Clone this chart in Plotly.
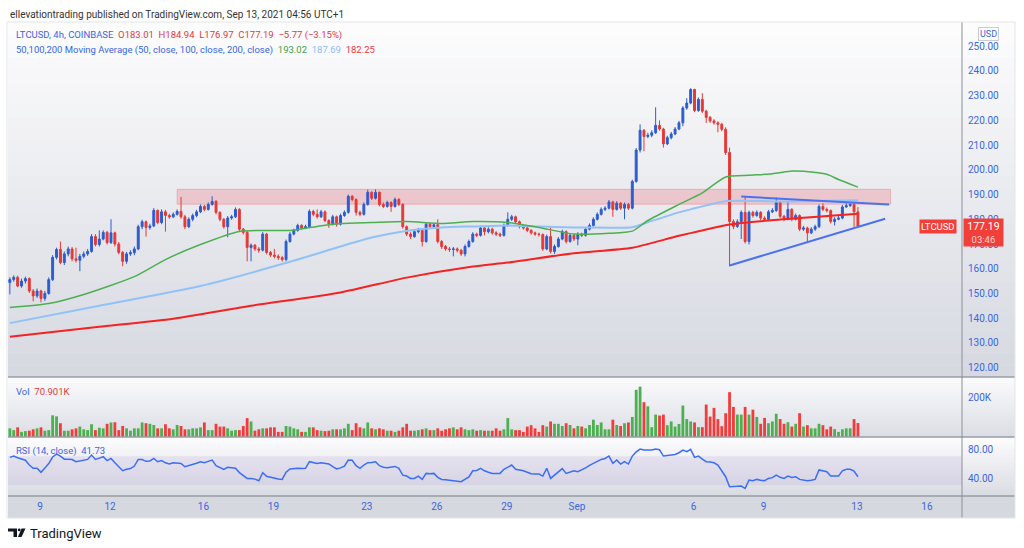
import plotly.graph_objects as go
import pandas as pd

# ---- data (LTCUSD 4h, Coinbase) ----
first_open = 154.4
closes = [
    155.6, 156.5, 153.0, 155.0, 156.0, 151.0, 149.0, 151.0, 148.0, 150.0,
    155.6, 164.6, 167.8, 162.5, 166.0, 168.0, 164.0, 163.4, 165.0, 166.0,
    167.0, 173.0, 169.8, 172.0, 174.7, 170.6, 174.5, 170.0, 166.6, 163.0,
    166.0, 166.5, 168.0, 177.0, 179.0, 176.7, 177.3, 183.6, 178.7, 183.0,
    181.5, 181.0, 182.0, 183.2, 181.0, 177.0, 180.0, 181.5, 183.0, 185.2,
    184.0, 186.0, 187.2, 182.8, 180.0, 177.0, 180.5, 181.0, 184.0, 176.0,
    174.7, 168.6, 169.5, 168.0, 167.5, 174.0, 166.6, 165.5, 165.0, 164.5,
    163.7, 171.0, 174.0, 175.5, 177.5, 176.5, 177.0, 183.2, 182.0, 181.0,
    183.0, 179.5, 178.0, 181.0, 178.0, 181.5, 182.8, 189.3, 188.0, 182.8,
    182.0, 186.0, 190.9, 188.5, 190.9, 186.0, 185.2, 186.8, 185.2, 188.0,
    186.0, 177.0, 174.0, 173.0, 175.0, 175.5, 171.0, 178.0, 177.0, 177.8,
    171.0, 169.0, 168.0, 167.8, 168.0, 167.5, 166.0, 169.0, 171.0, 174.0,
    173.5, 176.5, 175.0, 176.0, 174.5, 174.0, 173.5, 177.5, 180.0, 181.0,
    179.0, 177.0, 176.5, 175.5, 174.5, 174.0, 173.8, 168.0, 173.0, 167.0,
    169.0, 172.0, 175.0, 171.0, 173.5, 172.0, 174.0, 173.5, 176.0, 177.5,
    180.0, 182.0, 184.0, 184.5, 187.0, 184.0, 186.5, 184.5, 186.0, 184.5,
    195.3, 208.0, 216.0, 213.5, 214.0, 215.0, 218.0, 216.5, 210.5, 213.0,
    214.5, 216.5, 219.0, 225.0, 227.0, 232.5, 224.0, 228.5, 223.7, 221.2,
    219.8, 219.0, 218.4, 216.4, 207.0, 179.1, 177.1, 179.0, 182.8, 171.0,
    182.8, 181.5, 182.8, 180.5, 180.0, 183.0, 183.5, 186.8, 181.2, 180.0,
    184.0, 180.0, 181.5, 176.0, 176.5, 174.5, 176.0, 177.0, 185.2, 184.0,
    183.5, 179.1, 180.0, 180.5, 185.0, 185.5, 186.0, 183.01, 177.19,
]
highs = [
    156.5, 157.3, 157.2, 156.0, 156.8, 156.5, 151.8, 152.0, 151.5, 151.0,
    156.5, 165.5, 168.5, 171.0, 167.0, 169.0, 168.8, 168.5, 166.0, 167.0,
    168.0, 174.0, 174.0, 175.5, 175.5, 175.3, 180.0, 175.0, 170.8, 167.2,
    166.8, 167.5, 169.0, 177.8, 179.8, 179.5, 178.2, 184.5, 184.0, 184.0,
    183.8, 182.2, 182.8, 184.0, 189.0, 181.8, 180.8, 182.3, 183.8, 186.0,
    185.8, 186.8, 189.3, 187.8, 183.2, 180.5, 181.3, 181.8, 184.8, 184.5,
    176.5, 175.2, 170.2, 170.0, 168.8, 174.8, 174.5, 167.2, 168.0, 165.8,
    165.2, 171.8, 174.8, 176.2, 178.2, 178.0, 177.8, 184.0, 183.8, 184.0,
    183.8, 183.6, 180.0, 181.8, 181.5, 182.3, 183.6, 190.0, 189.8, 188.5,
    183.5, 186.8, 192.0, 191.3, 192.1, 191.2, 186.8, 187.5, 187.3, 188.8,
    188.6, 186.5, 177.5, 174.8, 175.8, 176.5, 176.0, 178.8, 178.6, 178.5,
    180.0, 171.6, 169.6, 168.8, 168.8, 168.6, 168.0, 169.8, 171.8, 174.8,
    174.6, 177.3, 177.0, 176.8, 176.6, 175.2, 174.6, 178.3, 182.8, 181.8,
    181.5, 179.5, 177.6, 177.0, 176.0, 175.0, 174.6, 174.3, 173.8, 177.0,
    169.8, 172.8, 175.8, 175.5, 174.3, 174.0, 174.8, 174.6, 176.8, 178.3,
    180.8, 182.8, 184.8, 185.3, 187.8, 187.5, 187.3, 187.0, 186.8, 186.6,
    196.0, 208.8, 218.4, 216.5, 215.0, 216.0, 225.3, 220.0, 217.0, 213.8,
    215.3, 217.3, 219.8, 225.8, 229.0, 233.0, 232.8, 229.3, 231.0, 224.3,
    221.8, 220.5, 219.6, 219.0, 217.2, 209.0, 180.0, 180.0, 183.6, 189.2,
    183.5, 183.4, 183.6, 183.3, 181.2, 183.8, 184.5, 188.8, 187.3, 181.8,
    187.2, 184.5, 182.3, 182.0, 177.3, 177.0, 176.8, 177.8, 186.0, 186.5,
    184.8, 184.0, 180.8, 181.3, 185.8, 186.5, 186.8, 187.0, 184.94,
]
lows = [
    149.6, 154.8, 152.5, 152.3, 154.0, 150.2, 146.8, 148.2, 146.4, 147.0,
    149.5, 155.0, 163.8, 161.8, 161.5, 165.0, 163.0, 162.5, 159.0, 164.2,
    165.2, 166.5, 169.0, 169.0, 171.5, 169.8, 170.0, 169.0, 165.8, 161.0,
    162.0, 165.2, 165.5, 167.5, 176.0, 173.0, 175.8, 176.8, 178.0, 178.0,
    175.0, 180.2, 180.5, 181.5, 180.2, 176.0, 176.5, 179.2, 180.8, 182.5,
    183.2, 183.5, 185.5, 182.0, 179.2, 176.2, 172.7, 179.8, 180.5, 175.2,
    173.8, 163.0, 163.0, 167.2, 166.5, 167.0, 165.8, 164.8, 164.2, 163.5,
    162.9, 163.0, 170.5, 173.5, 175.0, 175.8, 176.0, 176.5, 181.2, 180.3,
    180.5, 178.8, 176.5, 177.5, 177.0, 177.5, 181.0, 182.3, 187.3, 181.5,
    181.2, 181.5, 185.5, 187.8, 188.0, 185.2, 184.5, 184.7, 183.0, 184.7,
    185.3, 176.2, 173.2, 172.0, 172.5, 174.3, 169.0, 170.5, 176.3, 176.2,
    170.2, 168.0, 167.2, 166.8, 165.0, 166.6, 165.2, 165.0, 168.5, 170.5,
    172.8, 173.0, 173.5, 174.3, 173.8, 173.2, 172.8, 173.0, 177.0, 179.3,
    178.3, 176.3, 175.8, 174.8, 173.8, 173.3, 173.0, 167.2, 167.5, 166.2,
    166.0, 168.5, 171.5, 170.2, 170.5, 171.2, 169.5, 172.8, 173.0, 175.5,
    177.0, 179.5, 181.5, 183.3, 184.0, 181.0, 183.5, 183.8, 180.0, 183.8,
    184.0, 194.8, 207.0, 207.5, 212.8, 213.2, 214.5, 215.8, 209.0, 210.0,
    212.3, 214.0, 216.0, 217.6, 224.3, 226.5, 223.3, 223.5, 223.0, 219.0,
    219.0, 218.3, 215.2, 215.6, 206.0, 161.0, 176.0, 176.5, 172.0, 170.2,
    169.8, 180.7, 181.0, 179.7, 179.2, 179.5, 182.5, 183.0, 180.5, 179.2,
    179.5, 179.2, 179.5, 175.2, 175.3, 170.6, 174.0, 175.3, 176.5, 183.3,
    182.8, 178.3, 177.5, 179.6, 180.0, 184.6, 185.0, 176.9, 176.97,
]
volume_k = [
    44, 35, 49, 26, 30, 32, 39, 44, 49, 32,
    35, 110, 105, 70, 32, 32, 39, 44, 53, 39,
    35, 65, 35, 47, 44, 67, 74, 75, 35, 56,
    44, 32, 44, 44, 74, 70, 67, 61, 44, 44,
    65, 44, 39, 61, 56, 39, 39, 44, 44, 49,
    74, 35, 35, 67, 53, 53, 44, 32, 35, 35,
    56, 96, 79, 32, 39, 44, 44, 49, 49, 26,
    26, 56, 53, 44, 39, 26, 26, 49, 49, 35,
    32, 30, 32, 39, 39, 39, 44, 67, 35, 70,
    49, 44, 74, 44, 39, 44, 39, 32, 32, 26,
    32, 49, 67, 32, 32, 35, 39, 44, 35, 35,
    44, 32, 39, 44, 49, 39, 49, 39, 35, 39,
    32, 35, 32, 32, 32, 44, 32, 39, 96, 39,
    35, 35, 26, 53, 60, 44, 26, 60, 53, 79,
    67, 67, 56, 70, 61, 44, 56, 53, 44, 61,
    88, 61, 74, 39, 39, 88, 61, 56, 70, 74,
    102, 240, 256, 177, 156, 50, 114, 109, 114, 60,
    79, 53, 66, 160, 91, 79, 74, 50, 50, 165,
    104, 148, 91, 55, 121, 228, 153, 114, 114, 153,
    114, 139, 102, 67, 97, 70, 79, 118, 91, 67,
    75, 53, 67, 121, 53, 60, 44, 44, 67, 60,
    39, 53, 40, 26, 39, 44, 44, 91, 70.901,
]
rsi = [
    68.5, 70.3, 68.0, 66.5, 64.5, 58.0, 53.4, 53.4, 47.9, 54.0,
    60.0, 69.0, 73.1, 70.3, 66.0, 66.0, 65.5, 62.5, 63.5, 64.8,
    65.7, 71.7, 65.7, 67.5, 69.4, 64.0, 67.1, 61.0, 56.0, 50.1,
    52.0, 53.0, 56.5, 65.7, 65.5, 63.0, 63.5, 67.1, 62.5, 64.0,
    61.0, 59.3, 61.1, 61.0, 60.2, 55.6, 57.0, 58.8, 60.5, 62.5,
    61.1, 63.0, 64.8, 57.0, 54.0, 52.0, 54.7, 54.0, 53.4, 47.5,
    43.0, 39.5, 39.5, 38.5, 36.3, 47.3, 42.5, 41.0, 39.5, 38.8,
    38.1, 48.0, 52.5, 53.4, 53.4, 53.0, 53.4, 62.5, 61.0, 60.2,
    61.1, 60.5, 59.5, 55.6, 52.5, 54.0, 56.5, 64.8, 64.5, 57.0,
    53.4, 57.9, 61.1, 61.5, 62.5, 57.0, 55.0, 54.2, 55.0, 56.0,
    53.4, 44.0, 42.7, 39.5, 39.5, 42.7, 38.1, 46.4, 46.0, 46.4,
    41.0, 38.1, 37.5, 36.5, 36.3, 35.5, 34.9, 38.5, 41.5, 50.0,
    50.5, 53.4, 50.0, 48.0, 46.4, 46.4, 46.4, 52.0, 55.5, 57.9,
    52.0, 51.1, 50.0, 48.0, 46.0, 45.5, 45.5, 42.7, 53.4, 39.5,
    44.1, 48.0, 53.0, 46.4, 48.0, 50.1, 48.8, 51.1, 54.0, 57.5,
    60.2, 63.0, 65.7, 67.0, 70.3, 60.2, 64.8, 59.3, 62.5, 59.3,
    70.3, 76.0, 80.0, 78.6, 78.6, 78.6, 80.0, 79.0, 70.3, 71.0,
    71.5, 72.5, 74.9, 78.6, 76.3, 79.5, 68.5, 70.3, 66.0, 62.5,
    62.0, 61.1, 58.0, 50.0, 41.8, 28.0, 28.5, 28.9, 28.9, 25.7,
    37.2, 36.3, 38.1, 37.0, 36.3, 39.5, 40.5, 44.1, 41.0, 39.5,
    42.7, 40.9, 41.8, 38.1, 37.0, 36.3, 37.0, 38.1, 51.1, 50.0,
    48.8, 42.7, 42.5, 42.7, 50.0, 52.0, 52.0, 49.7, 41.73,
]

# change vs previous session close, as printed in the legend
change = -5.77
change_pct = -3.15
countdown = "03:46"

# moving averages, read at knots (candle index, value)
ma50_idx = [0, 10, 19, 32, 40, 49, 59, 66, 72, 79, 85, 93, 102, 111, 119, 128, 136, 145,
            154, 160, 164, 172, 178, 184, 190, 196, 201, 204, 210, 213, 218]
ma50_val = [144.3, 145.9, 149.6, 156.8, 163.7, 169.8, 175.1, 175.5, 175.5, 177.1, 178.3,
            178.7, 179.1, 178.3, 179.1, 178.7, 176.7, 174.0, 174.3, 175.2, 179.5, 186.0,
            190.7, 197.1, 197.8, 198.4, 199.5, 199.4, 198.2, 196.1, 193.02]
ma100_idx = [0, 23, 49, 72, 85, 93, 101, 111, 119, 128, 136, 145, 154, 160, 164, 172,
             175, 184, 200, 218]
ma100_val = [138.0, 145.0, 153.0, 162.8, 169.0, 172.6, 175.1, 176.7, 177.1, 177.5, 177.1,
             176.7, 176.6, 176.8, 178.8, 182.8, 184.0, 187.3, 187.2, 187.69]
ma200_idx = [0, 23, 42, 62, 85, 102, 119, 128, 145, 160, 172, 185, 198, 218]
ma200_val = [132.5, 136.5, 139.8, 145.0, 150.4, 156.4, 160.9, 162.5, 166.3, 168.5, 173.3,
             177.9, 179.9, 182.25]

# drawings
zone_x = ["2021-08-14 21:00", "2021-09-14 10:30"]
zone_y = [186.1, 192.1]
tri_upper = [("2021-09-08 01:00", 189.2), ("2021-09-14 09:00", 186.0)]
tri_lower = [("2021-09-07 13:00", 161.3), ("2021-09-14 05:00", 180.2)]

tick_dates = ["2021-08-09", "2021-08-12", "2021-08-16", "2021-08-19", "2021-08-23",
              "2021-08-26", "2021-08-29", "2021-09-01", "2021-09-06", "2021-09-09",
              "2021-09-13", "2021-09-16"]
tick_text = ["9", "12", "16", "19", "23", "26", "29", "Sep", "6", "9", "13", "16"]

times = pd.date_range("2021-08-07 17:00", periods=len(closes), freq="4h")
opens = [first_open] + closes[:-1]

W, H = 1024, 548
FONT = "Roboto"
BLUE_TXT = "#3a66e0"
UP = "#2c5ccf"
DOWN = "#e53935"


def px(x):
    return x / W


def py(y):
    return 1 - y / H


shapes = []


def hexrgb(c):
    return [int(c[i:i + 2], 16) for i in (1, 3, 5)]


def gradient(y_top, y_bot, c_top, c_bot, x0=8, x1=1015, n=30):
    a, b = hexrgb(c_top), hexrgb(c_bot)
    step = (y_bot - y_top) / n
    for k in range(n):
        t = k / (n - 1)
        col = "rgb(%d,%d,%d)" % tuple(round(a[j] + (b[j] - a[j]) * t) for j in range(3))
        shapes.append(dict(type="rect", xref="paper", yref="paper", layer="below",
                           x0=px(x0), x1=px(x1), y0=py(y_top + step * (k + 1) + 0.6),
                           y1=py(y_top + step * k), fillcolor=col, line_width=0))


gradient(22, 377, "#fcfcfd", "#d7d9e1")
gradient(377, 437, "#fbfbfc", "#dcdee5")
gradient(437, 496, "#fcfcfd", "#dadce3")
shapes.append(dict(type="rect", xref="paper", yref="paper", layer="below",
                   x0=px(8), x1=px(1015), y0=py(518), y1=py(496),
                   fillcolor="#d5d8df", line_width=0))
# pane separators and frame
for yy in (377, 437, 496):
    shapes.append(dict(type="line", xref="paper", yref="paper", layer="above",
                       x0=px(8), x1=px(1015), y0=py(yy), y1=py(yy),
                       line=dict(color="#9a9da5", width=1.5)))
shapes.append(dict(type="line", xref="paper", yref="paper", layer="above",
                   x0=px(962), x1=px(962), y0=py(22), y1=py(518),
                   line=dict(color="#8c8f97", width=1)))
shapes.append(dict(type="rect", xref="paper", yref="paper", layer="above",
                   x0=px(7), x1=px(1015), y0=py(518), y1=py(22),
                   line=dict(color="#e3e5ea", width=1)))

# resistance zone and triangle
shapes.append(dict(type="rect", xref="x", yref="y", layer="below",
                   x0=zone_x[0], x1=zone_x[1], y0=zone_y[0], y1=zone_y[1],
                   fillcolor="rgba(242,54,69,0.2)", line=dict(color="rgba(242,54,69,0.25)", width=1)))
for (xa, ya), (xb, yb) in (tri_upper, tri_lower):
    shapes.append(dict(type="line", xref="x", yref="y", layer="above",
                       x0=xa, y0=ya, x1=xb, y1=yb, line=dict(color="#4a72f0", width=2)))

# RSI band 30-70
shapes.append(dict(type="rect", xref="paper", yref="y3", layer="below",
                   x0=px(8), x1=px(962), y0=30, y1=70,
                   fillcolor="rgba(126,87,194,0.10)", line_width=0))

# TradingView logo mark
def path(pts):
    return "M" + " L".join("%.5f,%.5f" % (px(a), py(b)) for a, b in pts) + " Z"


shapes.append(dict(type="path", xref="paper", yref="paper", fillcolor="#131722", line_width=0,
                   path=path([(8, 528.5), (17, 528.5), (17, 537), (13.5, 537), (13.5, 531.5), (8, 531.5)])))
shapes.append(dict(type="circle", xref="paper", yref="paper", fillcolor="#131722", line_width=0,
                   x0=px(17.8), x1=px(20.6), y0=py(531.3), y1=py(528.5)))
shapes.append(dict(type="path", xref="paper", yref="paper", fillcolor="#131722", line_width=0,
                   path=path([(21.5, 528.5), (25.5, 528.5), (21.5, 537), (18, 537)])))

fig = go.Figure()
fig.add_trace(go.Candlestick(
    x=times, open=opens, high=highs, low=lows, close=closes,
    increasing=dict(line=dict(color=UP, width=1), fillcolor=UP),
    decreasing=dict(line=dict(color=DOWN, width=1), fillcolor=DOWN),
    whiskerwidth=0, xaxis="x", yaxis="y", hoverinfo="skip"))
for idx, val, col, w in ((ma200_idx, ma200_val, "#f52222", 2),
                         (ma100_idx, ma100_val, "#90c2f8", 2),
                         (ma50_idx, ma50_val, "#4caf50", 1.5)):
    fig.add_trace(go.Scatter(x=[times[i] for i in idx], y=val, mode="lines",
                             line=dict(color=col, width=w, shape="spline", smoothing=0.6),
                             xaxis="x", yaxis="y", hoverinfo="skip"))

vol_colors = ["#4caf50" if c >= o else "#f23b3b" for o, c in zip(opens, closes)]
fig.add_trace(go.Bar(x=times, y=[v * 1000 for v in volume_k], marker=dict(color=vol_colors, line_width=0),
                     width=4 * 3600 * 1000 * 0.72, xaxis="x2", yaxis="y2", hoverinfo="skip"))
fig.add_trace(go.Scatter(x=times, y=rsi, mode="lines", line=dict(color="#3c6ef5", width=1.5),
                         xaxis="x3", yaxis="y3", hoverinfo="skip"))

XD = [px(8), px(962)]
xrange = ["2021-08-07 15:06", "2021-09-17 12:00"]
common_x = dict(domain=XD, range=xrange, showgrid=False, zeroline=False, showline=False,
                type="date")
common_y = dict(side="right", showgrid=False, zeroline=False, showline=False, ticks="",
                ticklabelstandoff=5, tickfont=dict(family=FONT, size=10, color=BLUE_TXT))

last = len(closes) - 1
hdr1 = ("<span style='color:%s'>LTCUSD, 4h, COINBASE</span>  "
        "<span style='color:#e0393e'>O%.2f  H%.2f  L%.2f  C%.2f  \u2212%.2f (\u2212%.2f%%)</span>"
        % (BLUE_TXT, opens[last], highs[last], lows[last], closes[last], abs(change), abs(change_pct)))
hdr2 = ("<span style='color:%s'>50,100,200 Moving Average (50, close, 100, close, 200, close)</span>  "
        "<span style='color:#43a047'>%.2f</span>  <span style='color:#8fbcf5'>%.2f</span>  "
        "<span style='color:#f23645'>%.2f</span>" % (BLUE_TXT, ma50_val[-1], ma100_val[-1], ma200_val[-1]))

ann = [
    dict(text="ellevationtrading published on TradingView.com, Sep 13, 2021 04:56 UTC+1",
         x=px(8), y=py(14), font=dict(size=10, color="#333333")),
    dict(text=hdr1, x=px(14), y=py(35), font=dict(size=9.5)),
    dict(text=hdr2, x=px(14), y=py(50), font=dict(size=9.5)),
    dict(text="<span style='color:%s'>Vol</span>  <span style='color:#e0393e'>%.3fK</span>"
         % (BLUE_TXT, volume_k[-1]), x=px(14), y=py(391), font=dict(size=9.5)),
    dict(text="RSI (14, close)  %.2f" % rsi[-1], x=px(14), y=py(451),
         font=dict(size=9.5, color=BLUE_TXT)),
    dict(text="TradingView", x=px(28), y=py(533), font=dict(size=13, color="#131722")),
    dict(text="USD", x=px(988), y=py(34), xanchor="center", font=dict(size=9, color=BLUE_TXT),
         bgcolor="#ffffff", bordercolor="#c9ccd4", borderwidth=1, borderpad=1),
    dict(text="LTCUSD", x=px(957), xanchor="right", yref="y", y=closes[last], yanchor="middle",
         font=dict(size=9.5, color="#ffffff"), bgcolor="#f23f3a", borderpad=1),
    dict(text="%.2f<br><span style='font-size:9.5px;color:#ffd6d3'>%s</span>" % (closes[last], countdown),
         x=px(962.5), xanchor="left", yref="y", y=closes[last], yanchor="middle", yshift=-6,
         font=dict(size=10.5, color="#ffffff"), bgcolor="#f23f3a", width=37, height=25),
]
annotations = []
for a in ann:
    base = dict(xref="paper", yref="paper", xanchor="left", yanchor="middle", showarrow=False,
                align="center")
    base.update(a)
    base["font"] = dict(family=FONT, **a["font"])
    annotations.append(base)

fig.update_layout(
    width=W, height=H, autosize=False, margin=dict(l=0, r=0, t=0, b=0),
    paper_bgcolor="#ffffff", plot_bgcolor="rgba(0,0,0,0)", showlegend=False,
    font=dict(family=FONT), shapes=shapes, annotations=annotations, hovermode=False,
    xaxis=dict(common_x, anchor="y", showticklabels=False, rangeslider=dict(visible=False)),
    xaxis2=dict(common_x, anchor="y2", matches="x", showticklabels=False),
    xaxis3=dict(common_x, anchor="y3", matches="x", tickvals=tick_dates, ticktext=tick_text,
                ticks="", ticklabelstandoff=3, tickfont=dict(family=FONT, size=10, color=BLUE_TXT)),
    yaxis=dict(common_y, domain=[py(377), py(22)], anchor="x", range=[116.2, 259.8],
               dtick=10, tick0=0, tickformat=".2f"),
    yaxis2=dict(common_y, domain=[py(437), py(378)], anchor="x2", range=[0, 300000],
                tickvals=[200000], ticktext=["200K"]),
    yaxis3=dict(common_y, domain=[py(496), py(437)], anchor="x3", range=[15.2, 96.6],
                tickvals=[40, 80], tickformat=".2f"),
)

# the page body has a default 8px margin; drop it so the figure sits at the window origin
fig.write_html("out.html", config=dict(displayModeBar=False),
               post_script="document.body.style.margin='0';document.body.style.overflow='hidden';")
